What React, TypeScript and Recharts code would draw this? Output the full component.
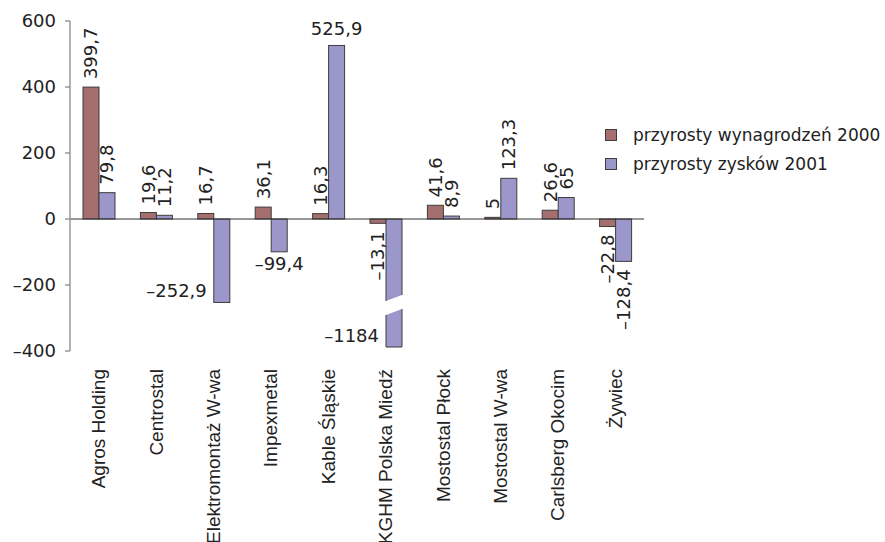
import { BarChart, Bar, XAxis, YAxis, ReferenceLine, Legend, LabelList } from 'recharts';

const companies = [
  'Agros Holding',
  'Centrostal',
  'Elektromontaż W-wa',
  'Impexmetal',
  'Kable Śląskie',
  'KGHM Polska Miedź',
  'Mostostal Płock',
  'Mostostal W-wa',
  'Carlsberg Okocim',
  'Żywiec',
];
const wageGrowth2000 = [399.7, 19.6, 16.7, 36.1, 16.3, -13.1, 41.6, 5, 26.6, -22.8];
const profitGrowth2001 = [79.8, 11.2, -252.9, -99.4, 525.9, -1184, 8.9, 123.3, 65, -128.4];
const yTicks = [-400, -200, 0, 200, 400, 600];
const seriesNames = ['przyrosty wynagrodzeń 2000', 'przyrosty zysków 2001'];

const data = companies.map((name, i) => ({
  name,
  wages: wageGrowth2000[i],
  profits: profitGrowth2001[i],
}));

const W = 885;
const H = 542;
const margin = { top: 21, right: 241, bottom: 0, left: 0 };
const xAxisHeight = 191;
const plotBottom = H - margin.bottom - xAxisHeight;

const colors = ['#a56f70', '#9c97ca'];
const edge = '#3d3d3d';
const ink = '#222';
const numFont = '"DejaVu Sans", sans-serif';
const catFont = '"Liberation Sans", Arial, sans-serif';

type Spot = 'rotated' | 'top' | 'left' | 'bottom';
// most values are written vertically; a few sit horizontally next to their bar
const profitSpots: Record<string, Spot> = {
  'Elektromontaż W-wa': 'left',
  Impexmetal: 'bottom',
  'Kable Śląskie': 'top',
  'KGHM Polska Miedź': 'left',
};

const fmtNum = (v: number) => (v < 0 ? '\u2013' : '') + String(Math.abs(v)).replace('.', ',');

// bar extent on screen, cut short when the value runs past the bottom of the axis
const extent = (y: number, height: number) => {
  const top = Math.min(y, y + height);
  const bottom = Math.max(y, y + height);
  const broken = bottom > plotBottom;
  return { top, bottom: broken ? plotBottom - 4 : bottom, broken };
};

const BarShape = (props: any) => {
  const { x, y, width, height, fill } = props;
  const { top, bottom, broken } = extent(y, height);
  if (!broken) {
    return <rect x={x} y={top} width={width} height={bottom - top} fill={fill} stroke={edge} strokeWidth={1} />;
  }
  const b = plotBottom - 46;
  const g = 7;
  const s = 3;
  const r = x + width;
  return (
    <g>
      <path d={`M${x},${top} H${r} V${b - g - s} L${x},${b - g + s} Z`} fill={fill} />
      <path d={`M${x},${b + g + s} L${r},${b + g - s} V${bottom} H${x} Z`} fill={fill} />
      <path d={`M${x},${b - g + s} V${top} H${r} V${b - g - s}`} fill="none" stroke={edge} strokeWidth={1} />
      <path d={`M${x},${b + g + s} V${bottom} H${r} V${b + g - s}`} fill="none" stroke={edge} strokeWidth={1} />
    </g>
  );
};

const valueLabel = (spots: Record<string, Spot>) => (props: any) => {
  const { x, y, width, height, value, index } = props;
  const v = Number(value);
  const { top, bottom } = extent(y, height);
  const cx = x + width / 2;
  const text = fmtNum(v);
  const spot = spots[companies[index]] ?? 'rotated';
  const common = { fontFamily: numFont, fontSize: 18, fill: ink };
  if (spot === 'top') {
    return <text x={cx} y={top - 10} textAnchor="middle" {...common}>{text}</text>;
  }
  if (spot === 'bottom') {
    return <text x={cx} y={bottom + 5} textAnchor="middle" dominantBaseline="hanging" {...common}>{text}</text>;
  }
  if (spot === 'left') {
    return <text x={x - 7} y={bottom - 12} textAnchor="end" dominantBaseline="central" {...common}>{text}</text>;
  }
  const ay = v >= 0 ? top - 8 : bottom + 8;
  return (
    <text
      x={cx}
      y={ay}
      transform={`rotate(-90, ${cx}, ${ay})`}
      textAnchor={v >= 0 ? 'start' : 'end'}
      dominantBaseline="central"
      {...common}
    >
      {text}
    </text>
  );
};

const CompanyTick = ({ x, y, payload }: any) => {
  const ty = y + 18;
  return (
    <text
      x={x}
      y={ty}
      transform={`rotate(-90, ${x}, ${ty})`}
      textAnchor="end"
      dominantBaseline="central"
      fontFamily={catFont}
      fontSize={19}
      fill={ink}
    >
      {payload.value}
    </text>
  );
};

const LegendBox = () => (
  <div style={{ fontFamily: numFont, fontSize: 17, color: ink }}>
    {seriesNames.map((name, i) => (
      <div key={name} style={{ display: 'flex', alignItems: 'center', height: 29, whiteSpace: 'nowrap' }}>
        <span
          style={{
            display: 'inline-block',
            width: 10,
            height: 10,
            background: colors[i],
            border: `1px solid ${edge}`,
            marginRight: 16,
          }}
        />
        {name}
      </div>
    ))}
  </div>
);

export default function App() {
  return (
    <div style={{ position: 'absolute', left: 0, top: 0, background: '#fff' }}>
      <BarChart width={W} height={H} data={data} margin={margin} barGap={0} barSize={16}>
        <XAxis
          dataKey="name"
          height={xAxisHeight}
          axisLine={false}
          tickLine={false}
          tickSize={0}
          tickMargin={0}
          interval={0}
          tick={<CompanyTick />}
        />
        <YAxis
          width={70}
          domain={[-400, 600]}
          ticks={yTicks}
          allowDataOverflow
          axisLine={{ stroke: '#999', strokeWidth: 1.5 }}
          tickLine={{ stroke: '#999', strokeWidth: 1.5 }}
          tickSize={5}
          tickMargin={9}
          tick={{ fill: ink, fontSize: 18, fontFamily: numFont }}
          tickFormatter={(v: number) => (v < 0 ? '\u2013' + Math.abs(v) : String(v))}
        />
        <Legend
          layout="vertical"
          align="center"
          verticalAlign="middle"
          wrapperStyle={{ left: 605, top: 120, width: 280 }}
          content={() => <LegendBox />}
        />
        <Bar dataKey="wages" name={seriesNames[0]} fill={colors[0]} shape={BarShape} isAnimationActive={false}>
          <LabelList dataKey="wages" content={valueLabel({})} />
        </Bar>
        <Bar dataKey="profits" name={seriesNames[1]} fill={colors[1]} shape={BarShape} isAnimationActive={false}>
          <LabelList dataKey="profits" content={valueLabel(profitSpots)} />
        </Bar>
        <ReferenceLine y={0} stroke="#333" strokeWidth={1.2} />
      </BarChart>
    </div>
  );
}
